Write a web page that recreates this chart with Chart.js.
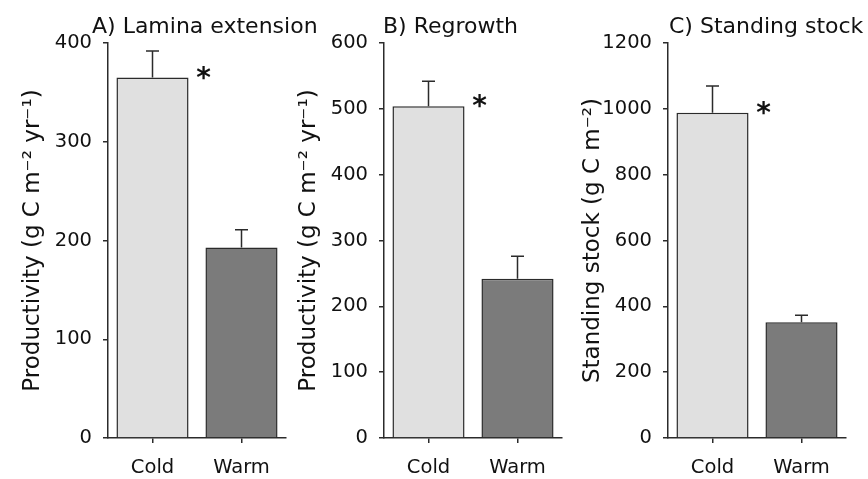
<!DOCTYPE html>
<html>
<head>
<meta charset="utf-8">
<script src="https://cdn.jsdelivr.net/npm/chart.js@4.4.1/dist/chart.umd.min.js"></script>
<style>
  html, body { margin: 0; padding: 0; background: #fff; overflow: hidden; }
  #wrap { position: relative; width: 868px; height: 479px; }
  #wrap canvas { position: absolute; top: 0; }
</style>
</head>
<body>
<div id="wrap">
  <canvas id="panelA" width="330" height="479" style="left:0px"></canvas>
  <canvas id="panelB" width="330" height="479" style="left:276px"></canvas>
  <canvas id="panelC" width="330" height="479" style="left:560px"></canvas>
</div>
<script>
// data
var categories = ['Cold', 'Warm'];

var laminaMeans = [365, 193];
var laminaSE = [27, 18];
var laminaMarks = ['*', ''];

var regrowthMeans = [504, 242];
var regrowthSE = [38, 34];
var regrowthMarks = ['*', ''];

var stockMeans = [988, 352];
var stockSE = [81, 21];
var stockMarks = ['*', ''];

var panelTitles = ['A) Lamina extension', 'B) Regrowth', 'C) Standing stock'];
var yTitles = ['Productivity (g C m\u207B\u00B2 yr\u207B\u00B9)', 'Productivity (g C m\u207B\u00B2 yr\u207B\u00B9)', 'Standing stock (g C m\u207B\u00B2)'];
var yMax = [400, 600, 1200];
var yStep = [100, 100, 200];

var barColors = ['#e0e0e0', '#7b7b7b'];
var ink = '#111';
var FONT = 'DejaVu Sans';

// error bars (upper only) + significance asterisks
var errorBarPlugin = {
  id: 'errorBars',
  afterDatasetsDraw: function(chart) {
    var ctx = chart.ctx;
    var meta = chart.getDatasetMeta(0);
    var yScale = chart.scales.y;
    var means = chart.data.datasets[0].data;
    var se = chart.options.plugins.errorBars.se;
    var marks = chart.options.plugins.errorBars.marks;
    ctx.save();
    ctx.strokeStyle = '#2b2b2b';
    ctx.lineWidth = 1.5;
    meta.data.forEach(function(bar, i) {
      var top = yScale.getPixelForValue(means[i] + se[i]);
      ctx.beginPath();
      ctx.moveTo(bar.x, bar.y);
      ctx.lineTo(bar.x, top);
      ctx.moveTo(bar.x - 6.5, top);
      ctx.lineTo(bar.x + 6.5, top);
      ctx.stroke();
      if (marks[i]) {
        ctx.fillStyle = ink;
        ctx.font = 'bold 28px ' + FONT;
        ctx.textAlign = 'center';
        ctx.textBaseline = 'alphabetic';
        ctx.fillText(marks[i], bar.x + bar.width / 2 + 15, bar.y + 9);
      }
    });
    ctx.restore();
  }
};

// panel heading, left aligned near the y axis
var headingPlugin = {
  id: 'heading',
  afterDraw: function(chart) {
    var o = chart.options.plugins.heading;
    var ctx = chart.ctx;
    ctx.save();
    ctx.fillStyle = ink;
    ctx.font = '22px ' + FONT;
    ctx.textAlign = 'left';
    ctx.textBaseline = 'alphabetic';
    ctx.fillText(o.text, chart.chartArea.left + o.dx, 33);
    ctx.restore();
  }
};

function makePanel(id, idx, means, se, marks, headDx) {
  return new Chart(document.getElementById(id), {
    type: 'bar',
    data: {
      labels: categories,
      datasets: [{
        data: means,
        backgroundColor: barColors,
        borderColor: '#2b2b2b',
        borderWidth: 1.5,
        categoryPercentage: 1,
        barPercentage: 0.81
      }]
    },
    plugins: [errorBarPlugin, headingPlugin],
    options: {
      responsive: false,
      animation: false,
      devicePixelRatio: 1,
      layout: { padding: { top: 43, right: 44, bottom: 0, left: 0 } },
      plugins: {
        legend: { display: false },
        tooltip: { enabled: false },
        errorBars: { se: se, marks: marks },
        heading: { text: panelTitles[idx], dx: headDx }
      },
      scales: {
        x: {
          grid: { drawOnChartArea: false, offset: false, tickLength: 5, color: '#2b2b2b', lineWidth: 1.5 },
          border: { color: '#2b2b2b', width: 1.5 },
          ticks: { color: ink, font: { family: FONT, size: 19.5 }, padding: 13 },
          afterFit: function(s) { s.height = 41; }
        },
        y: {
          min: 0,
          max: yMax[idx],
          ticks: {
            stepSize: yStep[idx], color: ink, font: { family: FONT, size: 19.5 }, padding: 11,
            callback: function(v) { return String(v); }
          },
          grid: { drawOnChartArea: false, tickLength: 5, color: '#2b2b2b', lineWidth: 1.5 },
          border: { color: '#2b2b2b', width: 1.5 },
          title: {
            display: true,
            text: yTitles[idx],
            color: ink,
            font: { family: FONT, size: 23, lineHeight: 1 },
            padding: { top: 22, bottom: 0 }
          },
          afterFit: function(s) { s.width = 108; }
        }
      }
    }
  });
}

makePanel('panelA', 0, laminaMeans, laminaSE, laminaMarks, -16);
makePanel('panelB', 1, regrowthMeans, regrowthSE, regrowthMarks, -1);
makePanel('panelC', 2, stockMeans, stockSE, stockMarks, 1);
</script>
</body>
</html>
